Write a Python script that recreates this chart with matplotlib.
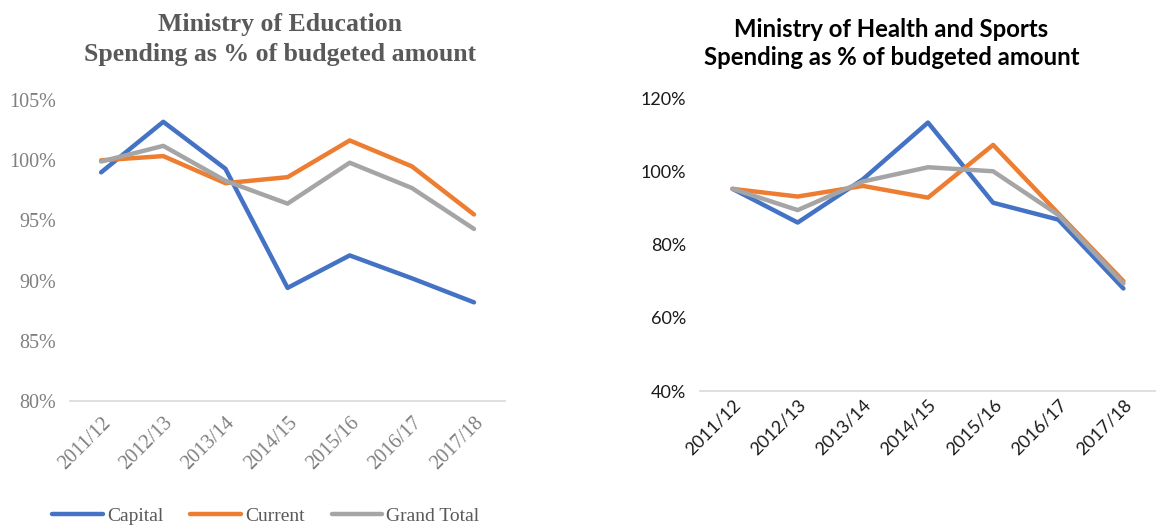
import matplotlib.pyplot as plt
from matplotlib.ticker import PercentFormatter

years = ['2011/12', '2012/13', '2013/14', '2014/15', '2015/16', '2016/17', '2017/18']

# Ministry of Education (% of budget)
edu_capital = [99.0, 103.2, 99.3, 89.4, 92.1, 90.2, 88.2]
edu_current = [100.0, 100.35, 98.1, 98.6, 101.65, 99.5, 95.5]
edu_total   = [99.9, 101.2, 98.3, 96.4, 99.8, 97.7, 94.3]

# Ministry of Health and Sports (% of budget)
hlt_capital = [95.2, 86.0, 97.8, 113.3, 91.4, 86.8, 68.0]
hlt_current = [95.2, 93.1, 96.0, 92.8, 107.2, 88.5, 70.0]
hlt_total   = [95.2, 89.4, 97.2, 101.1, 100.0, 88.1, 69.4]

series_names = ['Capital', 'Current', 'Grand Total']
colors = ['#4472C4', '#ED7D31', '#A5A5A5']

fig = plt.figure(figsize=(11.56, 5.27), dpi=100)
ax1 = fig.add_axes([0.0606, 0.239, 0.3763, 0.571])
ax2 = fig.add_axes([0.6055, 0.258, 0.3945, 0.556])

serif = 'Liberation Serif'
sans = 'Lato'

def style(ax, family, tick_color, size):
  for s in ['top', 'right', 'left']:
    ax.spines[s].set_visible(False)
  ax.spines['bottom'].set_color('#d9d9d9')
  ax.spines['bottom'].set_linewidth(1.2)
  ax.tick_params(length=0, colors=tick_color, labelsize=size)
  ax.set_xlim(-0.5, len(years) - 0.5)
  ax.set_xticks(range(len(years)))
  ax.set_xticklabels(years, rotation=45, ha='right', rotation_mode='anchor',
                     family=family, color=tick_color)
  for lbl in ax.get_yticklabels():
    lbl.set_family(family)
  ax.tick_params(axis='y', pad=10)

# left chart
x = range(len(years))
for vals, name, c in zip([edu_capital, edu_current, edu_total], series_names, colors):
  ax1.plot(x, vals, color=c, lw=3.2, label=name, solid_capstyle='round', solid_joinstyle='round')
ax1.set_ylim(80, 105)
ax1.set_yticks([80, 85, 90, 95, 100, 105])
ax1.yaxis.set_major_formatter(PercentFormatter(decimals=0))
style(ax1, serif, '#7f7f7f', 14.5)
ax1.tick_params(axis='x', pad=9)

# right chart
for vals, name, c in zip([hlt_capital, hlt_current, hlt_total], series_names, colors):
  ax2.plot(x, vals, color=c, lw=3.2, label=name, solid_capstyle='round', solid_joinstyle='round')
ax2.set_ylim(40, 120)
ax2.set_yticks([40, 60, 80, 100, 120])
ax2.yaxis.set_major_formatter(PercentFormatter(decimals=0))
style(ax2, sans, '#1a1a1a', 13)
ax2.tick_params(axis='x', pad=4)

# titles
fig.text(0.242, 0.975, 'Ministry of Education\nSpending as % of budgeted amount',
         ha='center', va='top', family=serif, fontweight='bold', fontsize=18.5,
         color='#595959', linespacing=1.38)
fig.text(0.771, 0.966, 'Ministry of Health and Sports\nSpending as % of budgeted amount',
         ha='center', va='top', family=sans, fontweight='bold', fontsize=17.2,
         color='black', linespacing=1.28)

leg = ax1.legend(loc='center', bbox_to_anchor=(0.230, 0.02), bbox_transform=fig.transFigure,
                 ncol=3, frameon=False, handlelength=2.6, columnspacing=1.4, handletextpad=0.2,
                 prop={'family': serif, 'size': 14})
for t in leg.get_texts():
  t.set_color('#595959')
for h in leg.get_lines():
  h.set_linewidth(3.2)

fig.savefig('out.png', dpi=100)
